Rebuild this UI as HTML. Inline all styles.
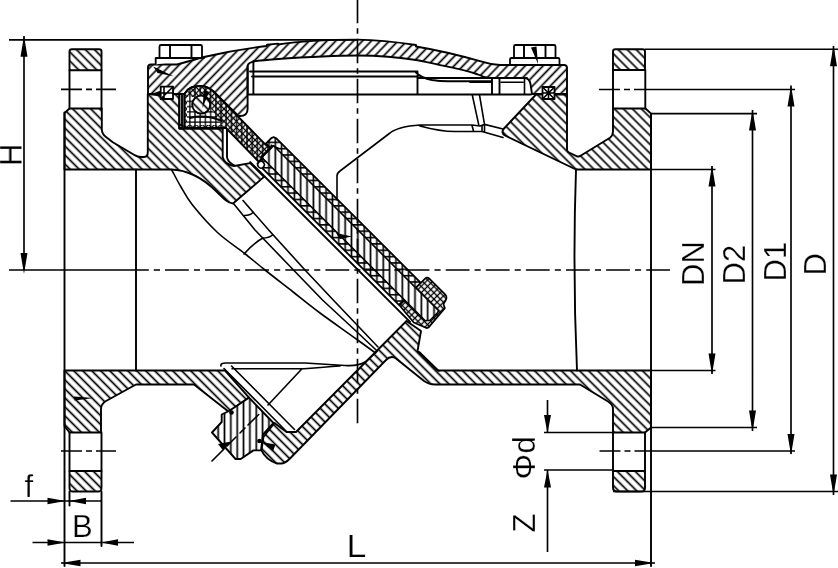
<!DOCTYPE html>
<html>
<head>
<meta charset="utf-8">
<title>Swing check valve drawing</title>
<style>
html,body{margin:0;padding:0;background:#fff;}
body{width:838px;height:568px;overflow:hidden;}
svg{display:block;}
text{font-family:"Liberation Sans",sans-serif;font-size:31px;fill:#000;stroke:#fff;stroke-width:0.25px;}
.o{fill:none;stroke:#000;stroke-width:1.9;stroke-linejoin:round;stroke-linecap:round;}
.t{fill:none;stroke:#000;stroke-width:1.6;stroke-linejoin:round;stroke-linecap:round;}
.d{fill:none;stroke:#000;stroke-width:1.65;}
.hb{fill:url(#hb);stroke:#000;stroke-width:1.9;stroke-linejoin:round;}
.hb2{fill:url(#hb2);stroke:#000;stroke-width:1.9;stroke-linejoin:round;}
.hc{fill:url(#hc);stroke:#000;stroke-width:1.9;stroke-linejoin:round;}
.hv{fill:url(#hv);stroke:#000;stroke-width:1.9;stroke-linejoin:round;}
.hx{fill:url(#hx);stroke:#000;stroke-width:1.4;stroke-linejoin:round;}
.a{fill:#000;stroke:none;}
.w{fill:#fff;stroke:#000;stroke-width:1.8;stroke-linejoin:round;}
</style>
</head>
<body>
<svg width="838" height="568" viewBox="0 0 838 568">
<defs>
<pattern id="hb" width="6.36" height="8" patternUnits="userSpaceOnUse" patternTransform="translate(4.3,0) rotate(-45)"><rect width="6.36" height="8" fill="#fff"/><line x1="3.2" y1="-1" x2="3.2" y2="9" stroke="#000" stroke-width="1.7"/></pattern>
<pattern id="hb2" width="6.36" height="8" patternUnits="userSpaceOnUse" patternTransform="translate(-2.6,0) rotate(-45)"><rect width="6.36" height="8" fill="#fff"/><line x1="3.2" y1="-1" x2="3.2" y2="9" stroke="#000" stroke-width="1.7"/></pattern>
<pattern id="hc" width="6.4" height="8" patternUnits="userSpaceOnUse" patternTransform="translate(-2.8,0) rotate(44)"><rect width="6.4" height="8" fill="#fff"/><line x1="3.2" y1="-1" x2="3.2" y2="9" stroke="#000" stroke-width="1.7"/></pattern>
<pattern id="hv" width="6.35" height="8" patternUnits="userSpaceOnUse"><rect width="6.35" height="8" fill="#fff"/><line x1="2.25" y1="-1" x2="2.25" y2="9" stroke="#000" stroke-width="1.7"/></pattern>
<pattern id="hx" width="4.4" height="4.4" patternUnits="userSpaceOnUse" patternTransform="rotate(45)"><rect width="4.4" height="4.4" fill="#fff"/><path d="M2.2 -1V6M-1 2.2H6" stroke="#000" stroke-width="1.3" fill="none"/></pattern>
<pattern id="hg" width="5.2" height="5.2" patternUnits="userSpaceOnUse"><rect width="5.2" height="5.2" fill="#fff"/><path d="M2.6 -1V7M-1 2.6H7" stroke="#000" stroke-width="1.3" fill="none"/></pattern>
<pattern id="hxl" width="4.5" height="4.5" patternUnits="userSpaceOnUse"><rect width="4.5" height="4.5" fill="#fff"/><path d="M2.25 -1V6M-1 2.25H6" stroke="#000" stroke-width="1.3" fill="none"/></pattern>
<pattern id="hvl" width="6.4" height="8" patternUnits="userSpaceOnUse" patternTransform="rotate(-45)"><rect width="6.4" height="8" fill="#fff"/><line x1="3.2" y1="-1" x2="3.2" y2="9" stroke="#000" stroke-width="1.4"/></pattern>
<pattern id="hgl" width="4.9" height="4.9" patternUnits="userSpaceOnUse" patternTransform="rotate(-45)"><rect width="4.9" height="4.9" fill="#fff"/><path d="M2.45 -1V6M-1 2.45H6" stroke="#000" stroke-width="1.7" fill="none"/></pattern>
<pattern id="hd" width="6.35" height="6.35" patternUnits="userSpaceOnUse"><rect width="6.35" height="6.35" fill="#fff"/><path d="M2.25 -1V8M-1 2.6H8" stroke="#000" stroke-width="1.6" fill="none"/></pattern>
<pattern id="hvt" width="5.2" height="8" patternUnits="userSpaceOnUse"><line x1="2.6" y1="-1" x2="2.6" y2="9" stroke="#000" stroke-width="1.3"/></pattern>
</defs>
<rect width="838" height="568" fill="#fff"/>

<!-- BODY SECTIONS -->
<g id="body">
<!-- upper-left body -->
<path class="hb" d="M69.5 108.5L64.5 113V169.5H171C190 170 205 180 217 192C224 199 228 203 233 203.5L264 176.9L250.2 163.1L234 166Q224 164 222.700 157V128.5H179.3V94H147.8V152Q147.8 157 144 157H141Q138 157 134 154.8L112.8 142.3L106 137Q101.8 134 101.8 129V108.5Z"/>
<!-- upper-left flange top -->
<path class="hb" d="M69.5 70.2V51.5Q69.5 49.2 72 49.2H99Q101.5 49.2 101.5 51.5V70.2Z"/>
<path class="o" d="M69.5 70.2V108.5M101.5 70.2V108.5"/>
<!-- upper-right body -->
<path class="hb2" d="M536 94.5H567V149.500Q567 151.500 569 152.500L577 156.300Q579 157 581 155.500L610 137.800Q613 135.500 613 131V108.500H645.500L651 113.600V169.500H576L505 135.500Q500.500 132.500 504 128.500Z"/>
<path class="hb2" d="M613 70V51.5Q613 49.2 615.5 49.2H642.500Q645 49.2 645 51.5V70Z"/>
<path class="o" d="M613 70V108.500M645.300 70V108.500"/>
<!-- lower-left body -->
<path class="hb" d="M64.5 370.5H225L249 397.6L229 412L194 384.5H136L106 401Q101 404 101 409V432.5H69.5L64.5 426Z"/>
<path class="hb" d="M69.5 471H101.5V488Q101.5 491.5 98 491.5H73Q69.5 491.5 69.5 488Z"/>
<path class="o" d="M69.5 432.5V471M101.5 432.5V471"/>
<path class="a" d="M74 396.500L74.500 400.500L94 398Z"/>
<!-- lower-right body -->
<path class="hb2" d="M437.5 370.5H651V427.5L645 432.5H613V409Q613 404.5 608 401.500L580 384.5H435Q429 384.5 424 381L396 358.500Q391 355 386 360L290 458.500Q285 463.500 281 463.500H277Q266 460 261.500 450.400L263.400 437L274.500 423L286.500 432H296L406.500 321L421 331L417.500 351Z"/>
<path class="hb2" d="M613 471H645V488Q645 491.5 641.500 491.5H617Q613 491.5 613 487.500Z"/>
<path class="o" d="M613 432.5V471M645 432.5V471"/>
</g>

<!-- COVER -->
<g id="cover">
<path class="hc" d="M148 94V67.5Q148 64.5 151 64.5H177C190 61 198 58.5 204 57C225 52 245 48.500 266.700 46L267 44.8L278 43.6V44.5C300 41 330 39.600 357 39.600C380 39.800 400 42.500 416 45V46.500C440 50.500 462 56 480 61.200Q490 64.500 500 65H564Q567 65 567 68V94H532L530.500 84Q529.500 78 524 78H490Q484 77.500 478 74.500C466 70 452 67.500 440 65.100C430 63 424 61.500 417.700 60.200C398 57 380 55.500 357 55.500C330 55.500 300 57.500 275 59.200Q262 60.200 258 60.800Q248 62 247.600 66V109Q247.600 116 240 116H238.500L213 91Q207 86 200 86Q190 86 186 92L184.300 94Z"/>
<!-- bolts -->
<path class="w" d="M159.500 58V46.500Q159.500 45 161 45H200.500Q202 45 202 46.500V58Z"/>
<path class="o" d="M170 45V58M191.500 45V58"/>
<path class="w" d="M155.700 64.500V58H204V57"/>
<path class="w" d="M514 58V46.500Q514 45 515.500 45H554Q555.500 45 555.500 46.500V58Z"/>
<path class="o" d="M524 45V58M545.500 45V58"/>
<path class="w" d="M510 64.800V59.500Q510 58 511.500 58H558Q559.500 58 559.500 59.500V64.800Z"/>
<path class="a" d="M531 47.500L536.500 46.500L538 64Z"/>
<path class="a" d="M153.300 66.500L157.500 73L173.500 76.300ZM148.600 95L161 90.500L161.500 96.500Z"/>
<!-- o-rings -->
<rect class="w" x="160.700" y="86.700" width="12.300" height="12.300"/>
<path class="t" d="M160.700 99L173 86.700M160.700 93H173M164 86.700V99"/>
<rect class="w" x="542.500" y="87" width="12" height="12"/>
<path class="t" d="M542.500 99L554.500 87M542.500 93H554.500M548.500 87V99M542.500 87L554.500 99"/>
<!-- cover inner lines -->
<path class="o" d="M253.400 61V94.500M248 94.500H531M250 71.500H417M252 76.500H417M417.500 71.500V94.500M416 72.500Q421 78 432 80Q440 81.200 448 81.200H492M417.500 78H527M492 78V94.500M499.500 78V94.500"/>
<path class="o" d="M247.600 66V94"/>
<path class="t" d="M470 82.300H491.500M501 82.300H523M524.500 79V94" stroke-width="1.1"/>
</g>

<!-- HINGE + ARM -->
<g id="hinge">
<path class="o" d="M179.300 94V126.500M182 94V126M179.300 128.500H223M227 128.500V157Q227.500 162 234.500 165.500"/>
<circle class="o" cx="181" cy="126.500" r="1.800"/>
<path d="M184.300 94V125.500Q184.300 128 187 128H226L260 163L274 150L265.500 144.600L213 91Q207 86 200 86Q190 86 186 92Z" fill="url(#hx)" stroke="#000" stroke-width="2" stroke-linejoin="round"/>
<path d="M184.300 94V125.500Q184.300 128 187 128H226L260 163L274 150L265.500 144.600L213 91Q207 86 200 86Q190 86 186 92Z" fill="url(#hvt)" stroke="none"/>
<path d="M187 97V125H222L212 110Q206 98 196 97Z" fill="url(#hg)" stroke="none"/>
<circle cx="201.200" cy="104.600" r="9" fill="url(#hb)" stroke="#000" stroke-width="1.9"/>
<path class="a" d="M204 90L209 92L202.500 108Z"/>
<path class="o" d="M190 118Q205 114 222 121"/>
</g>
<!-- DISC -->
<path d="M266.0 143.5L271.6 137.9L274.0 137.2L276.6 138.6L420.8 282.8L398.9 304.8L257.5 163.3L262.4 158.4L261.0 157.0L270.2 147.8Z" fill="url(#hd)" stroke="#000" stroke-width="1.8" stroke-linejoin="round"/>
<g id="disc" transform="translate(278,140) rotate(45)">
<path d="M202 1V-6Q202 -9 205 -9H227Q231 -9 232 -5L233 -1L237 1L239 26L238 28L225 33L203 31Z" fill="url(#hxl)" stroke="#000" stroke-width="1.7" stroke-linejoin="round"/>
<path class="o" d="M-4 35.300H222"/>
<circle cx="5.500" cy="29.500" r="3.300" fill="#fff" stroke="#000" stroke-width="1.500"/>
<path class="a" d="M-2 8L8 4L0 12Z"/>
</g>
<path d="M273.7 145.7L438.4 310.5L437.8 312.5L430.0 320.3L425.3 320.8L261.9 157.5Z" fill="url(#hv)" stroke="#000" stroke-width="1.6" stroke-linejoin="round"/>
<path class="a" d="M336 233L352 236.500L340 239Z"/>
<!-- PLUG -->
<g id="plug">
<path class="hv" d="M249 397.600L273.500 423L263 434.500L261 450.400H253.400L240.700 459H235.500L212 432.500L221.700 422V414.500L229 411Z"/>
<path class="t" d="M212 461L224 449M227 446L236 437M240 433L245 428M248 425L258.700 414.500" />
<path class="a" d="M231 441.500L218 444L223 450.500Z"/>
<circle class="a" cx="231.500" cy="412.500" r="2.300"/>
<circle class="a" cx="259.400" cy="441" r="2.300"/>
<path class="a" d="M261.500 442L275.500 444.500L273 451.500Z"/>
</g>

<!-- OUTLINES -->
<g id="lines">
<path class="o" d="M64.500 112.500V566M136 169.500V370.500M651 113.600V566M576 169.500Q572.500 270 577 370.500"/>
<path class="o" d="M69.500 491.500V505.500M101.500 491.500V546"/>
<!-- body silhouette left -->
<path class="t" d="M171.5 169.5C173.1 172.4 177.5 181.1 181 187C184.5 192.9 186.4 197.4 192.5 205C198.6 212.6 208.8 224.4 217.5 232.5C226.2 240.6 237.1 247.5 245 253.75C252.9 260.0 257.1 263.7 265 270C272.9 276.3 283.3 284.3 292.5 291.5C301.7 298.7 309.2 305.0 320 313C330.8 321.0 347.8 332.8 357 339.5C366.2 346.2 372.4 350.8 375.5 353"/>
<path class="t" d="M233.500 203.500L255 230L293.500 270L322.500 300L357 332L376.100 350"/>
<path class="t" d="M243 200.500L268.700 230L305 270L332.300 299L378 347"/>
<path class="t" d="M244.500 215.500Q250 215.500 253 212.500M244 254Q255 242 263 238Q269 238 272.500 235"/>
<!-- right upper interior -->
<path class="t" d="M337 200V176Q337 173 340 171L390 133Q398 126.500 420 125H472L480 126L484.500 124.400L503 129M420 126Q440 131.500 455 131.500Q470 131.500 482 131.500L503 137.500M472.300 95L478.800 125.100M479.500 95L484.500 124.400M472 125.500L473.500 131M482 125.500V131.500M484.500 125V132"/>
<!-- lower interior -->
<path class="t" d="M221 366Q220 363 226 363H305Q330 364.500 345 365.500Q358 366.500 366 361.500L377 351.500M232 368.700H304Q325 367 340 366M224 368.500L287 432M231.500 366L294.500 429.500M302 368.700L268 405M419.500 352L439 371"/>
</g>
<!-- CENTER LINES -->
<g id="center">
<path class="d" d="M9 270H148.750M153.750 270H160"/>
<path class="d" d="M165 270H671" stroke-dasharray="23.800 5.100 6.100 5.100"/>
<path class="d" d="M357.500 0V424" stroke-dasharray="24.500 5 5.500 5" stroke-dashoffset="1.250"/>
<path class="d" d="M61 89.300H116M61 451H116" stroke-dasharray="21 4 6 4 30"/>
<path class="d" d="M599 89.500H795M599.500 451H795" stroke-dasharray="21 4 6 4 300"/>
</g>
<!-- DIMENSIONS -->
<g id="dims">
<path class="d" d="M9 39.800H357M24 36V270M645 49.200H838M613 491.500H838M833.500 46V495M791 85.500V454M651 113.600H757M651 427.500H757M752.500 110V431M651 169.500H715.500M651 370.500H715.500M712 166V374M547.500 400V432.500M547.500 470V552M544 432.500H613M544 470H613M10.500 501H101M32.500 542.500H134M61 563H655"/>
<path class="a" d="M24 35.8L20.5 56.8H27.5ZM24 274L20.5 253H27.5ZM833.5 45.2L830.0 66.2H837.0ZM833.5 495.5L830.0 474.5H837.0ZM791 85.5L787.5 106.5H794.5ZM791 455L787.5 434H794.5ZM752.5 109.6L749.0 130.6H756.0ZM752.5 431.5L749.0 410.5H756.0ZM712 165.5L708.5 186.5H715.5ZM712 374.5L708.5 353.5H715.5ZM547.5 433.0L544.0 415.0H551.0ZM547.5 469.5L544.0 487.5H551.0ZM65.5 501L47.5 497.8V504.2ZM69.0 501L86.0 497.8V504.2ZM65.5 542.5L47.5 539.3V545.7ZM101.0 542.5L118.0 539.3V545.7ZM61.0 563L80.5 559.8V566.2ZM654.5 563L635.0 559.8V566.2Z"/>
</g>
<!-- LABELS -->
<g id="labels" opacity="0.999">
<text transform="translate(21.5,166) rotate(-90)">H</text>
<text transform="translate(703.5,286) rotate(-90)">DN</text>
<text transform="translate(744.5,284.500) rotate(-90)">D2</text>
<text transform="translate(786,281.500) rotate(-90)">D1</text>
<text transform="translate(826,275.500) rotate(-90)">D</text>
<text transform="translate(535,479.500) rotate(-90)"><tspan style="font-size:32px">Φ</tspan><tspan x="26">d</tspan></text>
<text transform="translate(535,532.500) rotate(-90)">Z</text>
<text x="24.500" y="496.500">f</text>
<text x="72" y="536.500">B</text>
<text transform="translate(346.500,557) scale(1.15,1)">L</text>
</g>

</svg>
</body>
</html>
